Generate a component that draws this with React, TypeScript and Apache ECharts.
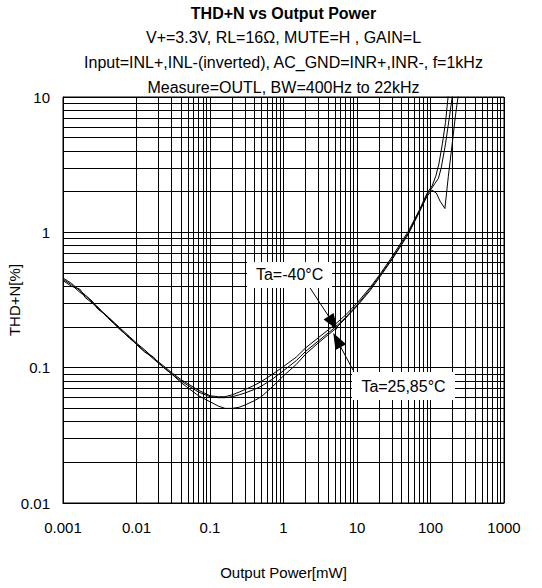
import React, { useEffect, useRef } from "react";
import * as echarts from "echarts";

const FONT = '"Liberation Sans", Arial, sans-serif';

const titleLines = [
  "THD+N vs Output Power",
  "V+=3.3V, RL=16Ω, MUTE=H , GAIN=L",
  "Input=INL+,INL-(inverted), AC_GND=INR+,INR-, f=1kHz",
  "Measure=OUTL, BW=400Hz to 22kHz",
];
const xTickLabels = ["0.001", "0.01", "0.1", "1", "10", "100", "1000"];
const yTickLabels = ["0.01", "0.1", "1", "10"];
const xName = "Output Power[mW]";
const yName = "THD+N[%]";

const powerCommon = [
  0.001, 0.0013, 0.0017, 0.002, 0.0025, 0.003, 0.004, 0.005, 0.006, 0.008,
  0.01, 0.013, 0.017, 0.02, 0.025, 0.03, 0.04, 0.05, 0.07, 0.1, 0.13, 0.16,
  0.2, 0.25, 0.3, 0.4, 0.5, 0.7, 1, 1.5, 2, 3, 5, 7, 10, 15, 20, 30, 50, 70, 90,
];

// Ta = -40°C
const powerM40 = [...powerCommon, 105, 118, 130, 145, 160, 175];
const thdM40 = [
  0.46, 0.42, 0.37, 0.345, 0.31, 0.275, 0.24, 0.215, 0.196, 0.17, 0.152, 0.135,
  0.118, 0.11, 0.1, 0.092, 0.082, 0.076, 0.068, 0.062, 0.061, 0.061, 0.063,
  0.066, 0.069, 0.074, 0.079, 0.089, 0.102, 0.12, 0.14, 0.167, 0.208, 0.245,
  0.3, 0.39, 0.48, 0.66, 1.02, 1.45, 1.95, 2.2, 2.6, 3.2, 4.5, 6.5, 10.5,
];

// Ta = 25°C
const power25 = [...powerCommon, 100, 115, 128, 140, 160, 180, 200];
const thd25 = [
  0.44, 0.4, 0.38, 0.33, 0.3, 0.28, 0.235, 0.21, 0.19, 0.168, 0.148, 0.13,
  0.12, 0.108, 0.098, 0.09, 0.08, 0.074, 0.066, 0.061, 0.06, 0.06, 0.061,
  0.063, 0.065, 0.069, 0.073, 0.082, 0.095, 0.113, 0.132, 0.158, 0.198, 0.235,
  0.29, 0.38, 0.47, 0.64, 0.99, 1.42, 1.9, 2.05, 2.3, 2.5, 3.0, 4.5, 7, 10.5,
];

// Ta = 85°C
const power85 = [...powerCommon, 105, 120, 135, 157, 175, 200, 220, 240];
const thd85 = [
  0.45, 0.41, 0.36, 0.34, 0.305, 0.27, 0.24, 0.212, 0.193, 0.165, 0.15, 0.132,
  0.116, 0.108, 0.097, 0.09, 0.078, 0.071, 0.062, 0.056, 0.052, 0.05, 0.05,
  0.051, 0.053, 0.057, 0.061, 0.072, 0.087, 0.106, 0.126, 0.153, 0.192, 0.232,
  0.285, 0.37, 0.46, 0.63, 0.97, 1.4, 1.85, 2.05, 1.95, 1.7, 1.5, 2.6, 4.8,
  7.5, 10.5,
];

// annotations (data coordinates)
const labelM40 = { text: "Ta=-40°C", at: [1.21, 0.484] };
const label2585 = { text: "Ta=25,85°C", at: [42.9, 0.0732] };
const arrowM40 = [[2.3, 0.388], [4.71, 0.214]];
const arrow2585 = [[8.83, 0.096], [5.35, 0.16]];

function App() {
  const ref = useRef<HTMLDivElement>(null);
  useEffect(() => {
    if (!ref.current) return;
    const chart = echarts.init(ref.current, null, { renderer: "svg" });

    const minorX: number[] = [];
    for (let e = -3; e < 3; e++) {
      for (let k = 2; k <= 9; k++) minorX.push(k * Math.pow(10, e));
    }
    const minorY: number[] = [];
    for (let e = -2; e < 1; e++) {
      for (let k = 2; k <= 9; k++) minorY.push(k * Math.pow(10, e));
    }

    const pair = (xs: number[], ys: number[]) => xs.map((x, i) => [x, ys[i]]);
    const curve = (name: string, xs: number[], ys: number[]) => ({
      name,
      type: "line",
      data: pair(xs, ys),
      symbol: "none",
      lineStyle: { color: "#000", width: 1 },
      z: 3,
      silent: true,
    });

    const plotCenterX = 63 + (504 - 63) / 2;
    const titleY = [13, 37, 62, 87];

    chart.setOption({
      animation: false,
      backgroundColor: "#fff",
      grid: {
        left: 63,
        right: 38,
        top: 97,
        bottom: 85,
        containLabel: false,
        outerBoundsMode: "none",
        show: true,
        borderColor: "#000",
        borderWidth: 1,
      },
      xAxis: {
        type: "log",
        logBase: 10,
        min: 0.001,
        max: 1000,
        name: xName,
        nameLocation: "middle",
        nameGap: 62,
        nameMoveOverlap: false,
        nameTextStyle: { fontFamily: FONT, fontSize: 15, color: "#000" },
        axisLine: { show: true, lineStyle: { color: "#000", width: 1 } },
        axisTick: { show: false },
        axisLabel: {
          fontFamily: FONT,
          fontSize: 15,
          color: "#000",
          margin: 17,
          formatter: (v: number) => xTickLabels[Math.round(Math.log10(v)) + 3],
        },
        splitLine: { show: true, lineStyle: { color: "#000", width: 1 } },
      },
      yAxis: {
        type: "log",
        logBase: 10,
        min: 0.01,
        max: 10,
        name: yName,
        nameLocation: "middle",
        nameGap: 41,
        nameMoveOverlap: false,
        nameRotate: 90,
        nameTextStyle: { fontFamily: FONT, fontSize: 15, color: "#000" },
        axisLine: { show: true, lineStyle: { color: "#000", width: 1 } },
        axisTick: { show: false },
        axisLabel: {
          fontFamily: FONT,
          fontSize: 15,
          color: "#000",
          margin: 13,
          formatter: (v: number) => yTickLabels[Math.round(Math.log10(v)) + 2],
        },
        splitLine: { show: true, lineStyle: { color: "#000", width: 1 } },
      },
      graphic: titleLines.map((t, i) => ({
        type: "text",
        x: plotCenterX,
        y: titleY[i],
        style: {
          text: t,
          fill: "#000",
          font: `${i === 0 ? "bold " : ""}16px ${FONT}`,
          textAlign: "center",
          textVerticalAlign: "middle",
        },
      })),
      series: [
        {
          name: "grid",
          type: "line",
          data: [],
          silent: true,
          z: 1,
          markLine: {
            z: 1,
            silent: true,
            symbol: ["none", "none"],
            label: { show: false },
            lineStyle: { color: "#000", width: 1, type: "solid" },
            data: [
              ...minorX.map((v) => ({ xAxis: v })),
              ...minorY.map((v) => ({ yAxis: v })),
            ],
          },
        },
        curve("Ta=-40°C", powerM40, thdM40),
        curve("Ta=25°C", power25, thd25),
        curve("Ta=85°C", power85, thd85),
        {
          name: "annotations",
          type: "line",
          data: [],
          silent: true,
          z: 10,
          markLine: {
            z: 10,
            silent: true,
            symbol: ["none", "triangle"],
            symbolSize: [12, 16],
            label: { show: false },
            lineStyle: { color: "#000", width: 1, type: "solid" },
            data: [
              [{ coord: arrowM40[0] }, { coord: arrowM40[1] }],
              [{ coord: arrow2585[0] }, { coord: arrow2585[1] }],
            ],
          },
          markPoint: {
            z: 10,
            silent: true,
            symbol: "rect",
            itemStyle: { color: "#fff" },
            label: {
              show: true,
              position: "inside",
              color: "#000",
              fontFamily: FONT,
              fontSize: 16,
            },
            data: [
              {
                coord: labelM40.at,
                symbolSize: [85, 26],
                label: { formatter: labelM40.text },
              },
              {
                coord: label2585.at,
                symbolSize: [103, 28],
                label: { formatter: label2585.text },
              },
            ],
          },
        },
      ],
    });
    return () => chart.dispose();
  }, []);
  return (
    <div
      ref={ref}
      style={{ position: "absolute", left: 0, top: 0, width: 542, height: 588 }}
    />
  );
}

export default App;
